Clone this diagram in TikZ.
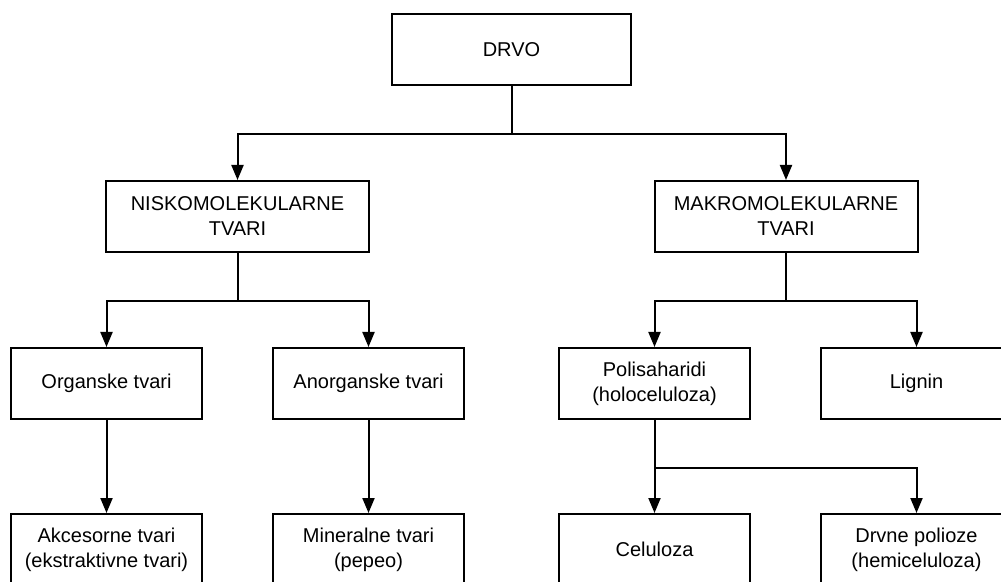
\documentclass[tikz,border=0pt]{standalone}
\usepackage{fontspec}
\setmainfont{Liberation Sans}
\usetikzlibrary{positioning,arrows.meta}

\begin{document}
\begin{tikzpicture}[x=0.5pt,y=-0.5pt,line width=1pt]
\tikzstyle{bx} = [draw,fill=white,shape=rectangle,align=center,font=\fontsize{10pt}{12.5pt}\selectfont,minimum width=95.5pt,minimum height=35.5pt,inner sep=0pt]
\tikzstyle{wide} = [bx,minimum width=131.5pt]
\tikzstyle{top} = [bx,minimum width=119.5pt]
\tikzstyle{arr} = [-{Triangle[length=7.5pt,width=6pt]}]
\useasboundingbox (0,0) rectangle (1001,582);
\clip (0,0) rectangle (1001,582);
\node[top] (drvo) at (511.5,49.5) {DRVO};
\node[wide] (nisko) at (237.5,216.5) {NISKOMOLEKULARNE\\TVARI};
\node[wide] (makro) at (786,216.5) {MAKROMOLEKULARNE\\TVARI};
\node[bx] (org) at (106.5,383.5) {Organske tvari};
\node[bx] (anorg) at (368.5,383.5) {Anorganske tvari};
\node[bx] (poli) at (654.5,383.5) {Polisaharidi\\(holoceluloza)};
\node[bx] (lignin) at (916.5,383.5) {Lignin};
\node[bx] (akc) at (106.5,549.5) {Akcesorne tvari\\(ekstraktivne tvari)};
\node[bx] (miner) at (368.5,549.5) {Mineralne tvari\\(pepeo)};
\node[bx] (cel) at (654.5,549.5) {Celuloza};
\node[bx] (drvne) at (916.5,549.5) {Drvne polioze\\(hemiceluloza)};
\draw[arr] (drvo.south) -- ++(0,48) -| (nisko.north);
\draw[arr] (drvo.south) -- ++(0,48) -| (makro.north);
\draw[arr] (nisko.south) -- ++(0,48) -| (org.north);
\draw[arr] (nisko.south) -- ++(0,48) -| (anorg.north);
\draw[arr] (makro.south) -- ++(0,48) -| (poli.north);
\draw[arr] (makro.south) -- ++(0,48) -| (lignin.north);
\draw[arr] (org) -- (akc);
\draw[arr] (anorg) -- (miner);
\draw[arr] (poli.south) -- ++(0,48) -| (cel.north);
\draw[arr] (poli.south) -- ++(0,48) -| (drvne.north);
\end{tikzpicture}
\end{document}
